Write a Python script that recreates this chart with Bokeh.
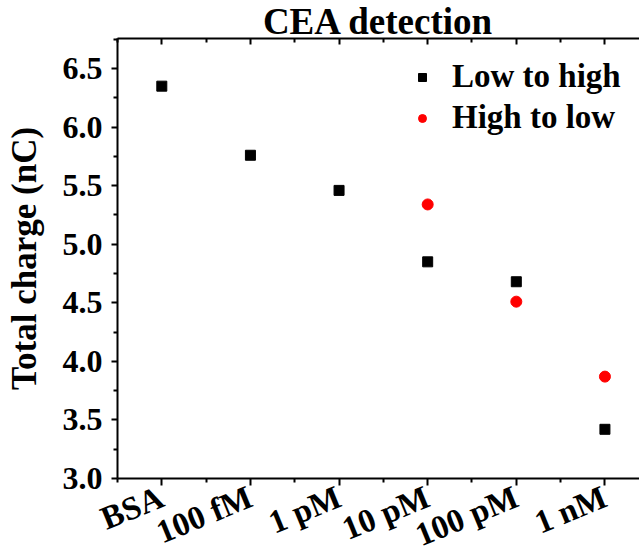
from bokeh.plotting import figure
from bokeh.models import (ColumnDataSource, FixedTicker, LinearAxis, Range1d,
                          Legend, LegendItem, PrintfTickFormatter)
from bokeh.embed import file_html
from bokeh.resources import INLINE

# ---- data ----
categories = ["BSA", "100 fM", "1 pM", "10 pM", "100 pM", "1 nM"]
low_to_high = [6.35, 5.76, 5.46, 4.85, 4.68, 3.42]
high_to_low_categories = ["10 pM", "100 pM", "1 nM"]
high_to_low = [5.34, 4.51, 3.87]
y_ticks = [3.0, 3.5, 4.0, 4.5, 5.0, 5.5, 6.0, 6.5]
y_minor_ticks = [3.25, 3.75, 4.25, 4.75, 5.25, 5.75, 6.25, 6.75]
title_text = "CEA detection"
y_label_text = "Total charge (nC)"
series_names = ["Low to high", "High to low"]

FONT = "Liberation Serif"

x_idx = list(range(len(categories)))
x_minor = [i - 0.5 for i in x_idx] + [len(categories) - 0.5]
src1 = ColumnDataSource(dict(x=x_idx, y=low_to_high))
src2 = ColumnDataSource(dict(x=[categories.index(c) for c in high_to_low_categories],
                             y=high_to_low))

p = figure(width=639, height=558, frame_width=522, frame_height=440,
           output_backend="svg", toolbar_location=None,
           x_range=Range1d(-0.5, 5.39), y_range=Range1d(3.0, 6.757),
           min_border_left=117, min_border_right=0, min_border_top=38,
           min_border_bottom=80)
p.outline_line_color = None
p.xgrid.visible = False
p.ygrid.visible = False
p.background_fill_color = "white"
p.border_fill_color = "white"

# title
p.title.text = title_text
p.title.align = "center"
p.title.text_font = FONT
p.title.text_font_style = "bold"
p.title.text_font_size = "37px"
p.title.text_color = "black"
p.title.standoff = -7

r1 = p.scatter("x", "y", source=src1, marker="square", size=10,
               fill_color="black", line_color="black")
r2 = p.scatter("x", "y", source=src2, marker="circle", size=11,
               fill_color="#ff0000", line_color="#ff0000")

def style_axis(ax):
    ax.axis_line_width = 2
    ax.axis_line_color = "black"
    ax.major_tick_line_width = 2
    ax.minor_tick_line_width = 2
    ax.major_tick_line_color = "black"
    ax.minor_tick_line_color = "black"
    ax.major_label_text_font = FONT
    ax.major_label_text_font_style = "bold"
    ax.major_label_text_color = "black"

# x axis (bottom)
xax = p.xaxis[0]
xax.ticker = FixedTicker(ticks=x_idx, minor_ticks=x_minor)
xax.major_label_overrides = {i: c for i, c in zip(x_idx, categories)}
xax.major_label_orientation = 0.39
xax.major_label_text_font_size = "33px"
xax.major_tick_out = 7
xax.major_tick_in = 0
xax.minor_tick_out = 4
xax.minor_tick_in = 0
xax.major_label_standoff = 10
style_axis(xax)

# y axis (left)
yax = p.yaxis[0]
yax.ticker = FixedTicker(ticks=y_ticks, minor_ticks=y_minor_ticks)
yax.formatter = PrintfTickFormatter(format="%.1f")
yax.major_label_text_font_size = "32px"
yax.major_tick_out = 6
yax.major_tick_in = 0
yax.minor_tick_out = 4
yax.minor_tick_in = 0
yax.major_label_standoff = 9
yax.axis_label = y_label_text
yax.axis_label_text_font = FONT
yax.axis_label_text_font_style = "bold"
yax.axis_label_text_font_size = "35px"
yax.axis_label_text_color = "black"
yax.axis_label_standoff = 16
style_axis(yax)

# top mirror axis with inward ticks, no labels
top = LinearAxis(ticker=FixedTicker(ticks=x_idx, minor_ticks=x_minor),
                 major_label_overrides={i: "" for i in x_idx})
top.major_tick_in = 6
top.major_tick_out = 0
top.minor_tick_in = 4
top.minor_tick_out = 0
top.major_label_standoff = 0
top.major_label_text_font_size = "1px"
style_axis(top)
p.add_layout(top, "above")

legend = Legend(items=[LegendItem(label=series_names[0], renderers=[r1]),
                       LegendItem(label=series_names[1], renderers=[r2])],
                location=(295, 342))
legend.border_line_color = None
legend.background_fill_alpha = 0
legend.label_text_font = FONT
legend.label_text_font_style = "bold"
legend.label_text_font_size = "33px"
legend.label_text_color = "black"
legend.glyph_width = 20
legend.label_standoff = 20
legend.spacing = 4
legend.padding = 10
p.add_layout(legend)

open("out.html", "w").write(file_html(p, INLINE))
